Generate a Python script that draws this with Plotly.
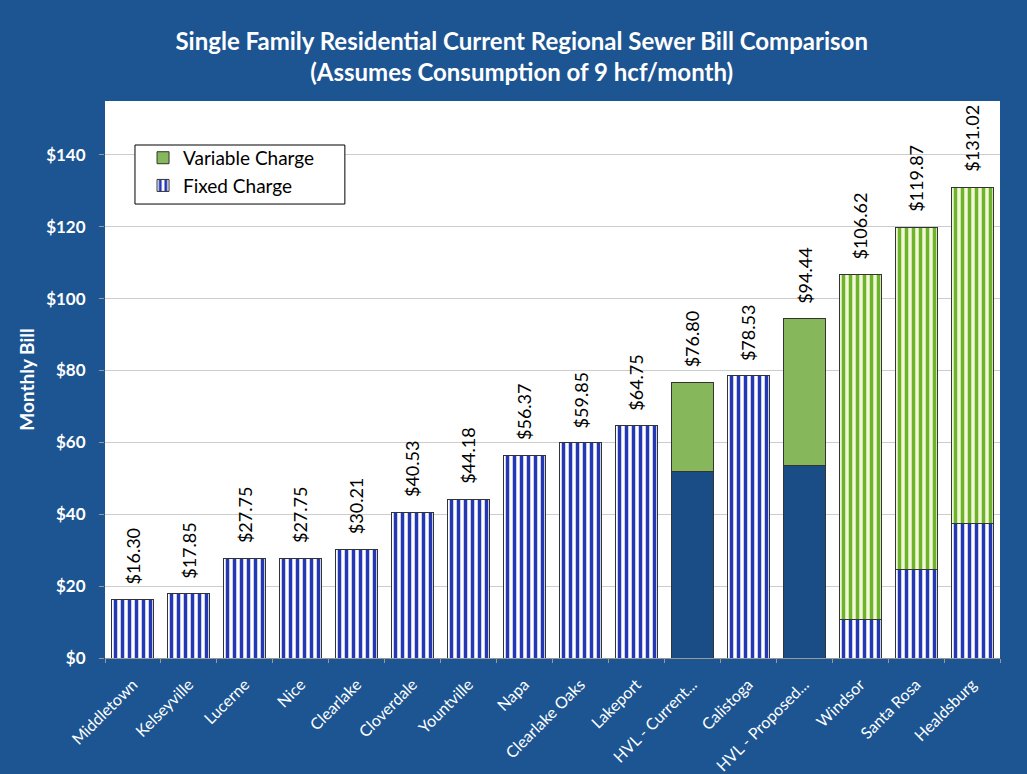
import plotly.graph_objects as go

categories = ["Middletown", "Kelseyville", "Lucerne", "Nice", "Clearlake", "Cloverdale",
              "Yountville", "Napa", "Clearlake Oaks", "Lakeport", "HVL - Current...",
              "Calistoga", "HVL - Proposed...", "Windsor", "Santa Rosa", "Healdsburg"]
totals = [16.30, 17.85, 27.75, 27.75, 30.21, 40.53, 44.18, 56.37, 59.85, 64.75,
          76.80, 78.53, 94.44, 106.62, 119.87, 131.02]
fixed = [16.30, 17.85, 27.75, 27.75, 30.21, 40.53, 44.18, 56.37, 59.85, 64.75,
         52.0, 78.53, 53.6, 10.8, 24.7, 37.4]
variable = [round(t - f, 2) for t, f in zip(totals, fixed)]
y_ticks = [0, 20, 40, 60, 80, 100, 120, 140]
y_tick_labels = ["$" + str(v) for v in y_ticks]

BG = "#1c5592"
FIX_BLUE = "#2438b4"
HVL_BLUE = "#1a4d86"
GREEN = "#86b75a"
STRIPE_GREEN = "#6cb52a"
STRIPE_BG = "#f3f6d8"

is_hvl = [c.startswith("HVL") for c in categories]

fixed_striped = [None if h else f for h, f in zip(is_hvl, fixed)]
fixed_solid = [f if h else None for h, f in zip(is_hvl, fixed)]
var_solid = [v if h else None for h, v in zip(is_hvl, variable)]
var_striped = [None if (h or v == 0) else v for h, v in zip(is_hvl, variable)]

OUTLINE = dict(color="#333333", width=1)

fig = go.Figure()
fig.add_trace(go.Bar(
    x=categories, y=fixed_striped, name="Fixed Charge", legendgroup="fixed",
    marker=dict(color="white", line=OUTLINE,
                pattern=dict(shape="|", fgcolor=FIX_BLUE, bgcolor="white",
                             fgopacity=1, size=7, solidity=0.5)),
    hoverinfo="skip",
))
fig.add_trace(go.Bar(
    x=categories, y=fixed_solid, name="Fixed Charge", legendgroup="fixed", showlegend=False,
    marker=dict(color=HVL_BLUE, line=OUTLINE),
    hoverinfo="skip",
))
fig.add_trace(go.Bar(
    x=categories, y=var_solid, name="Variable Charge", legendgroup="var",
    marker=dict(color=GREEN, line=OUTLINE),
    hoverinfo="skip",
))
fig.add_trace(go.Bar(
    x=categories, y=var_striped, name="Variable Charge", legendgroup="var", showlegend=False,
    marker=dict(color=STRIPE_BG, line=OUTLINE,
                pattern=dict(shape="|", fgcolor=STRIPE_GREEN, bgcolor=STRIPE_BG,
                             fgopacity=1, size=7, solidity=0.5)),
    hoverinfo="skip",
))

for c, t in zip(categories, totals):
    fig.add_annotation(x=c, y=t, text=f"${t:.2f}", textangle=-90, showarrow=False,
                       xanchor="center", yanchor="bottom", yshift=13,
                       font=dict(family="Lato", size=18, color="black"))

# legend frame
fig.add_shape(type="rect", xref="paper", yref="paper",
              x0=0.0335, x1=0.268, y0=0.815, y1=0.921,
              line=dict(color="black", width=1), fillcolor="white", layer="above")

fig.update_layout(
    width=1027, height=774,
    barmode="stack", bargap=0.25,
    paper_bgcolor=BG, plot_bgcolor="white",
    margin=dict(l=105, r=27, t=101, b=116, autoexpand=False),
    title=dict(text="<b>Single Family Residential Current Regional Sewer Bill Comparison<br>(Assumes Consumption of 9 hcf/month)</b>",
               x=0.508, xanchor="center", y=0.936, yanchor="middle",
               font=dict(family="Lato", size=24, color="white")),
    showlegend=True,
    legend=dict(x=0.0425, y=0.932, xanchor="left", yanchor="top", traceorder="reversed",
                bgcolor="rgba(0,0,0,0)", borderwidth=0,
                font=dict(family="Lato", size=19, color="black"),
                itemwidth=30, tracegroupgap=0),
    xaxis=dict(tickangle=-45, tickfont=dict(family="Lato", size=16, color="white"),
               ticks="outside", tickson="boundaries", ticklen=4, tickcolor="#999999",
               ticklabelstandoff=10, automargin=False,
               showline=True, linecolor="#999999", showgrid=False),
    yaxis=dict(range=[0, 155], tickvals=y_ticks, ticktext=y_tick_labels,
               tickfont=dict(family="Lato", size=17, color="white", weight="bold"),
               ticks="outside", ticklen=5, tickcolor="#999999", ticklabelstandoff=10,
               automargin=False,
               showgrid=True, gridcolor="#cccccc", gridwidth=1, zeroline=False,
               title=dict(text="<b>Monthly Bill</b>", standoff=6,
                          font=dict(family="Lato", size=19, color="white"))),
)

fig.write_html("out.html", config={"displayModeBar": False},
               post_script="document.body.style.margin='0';")
